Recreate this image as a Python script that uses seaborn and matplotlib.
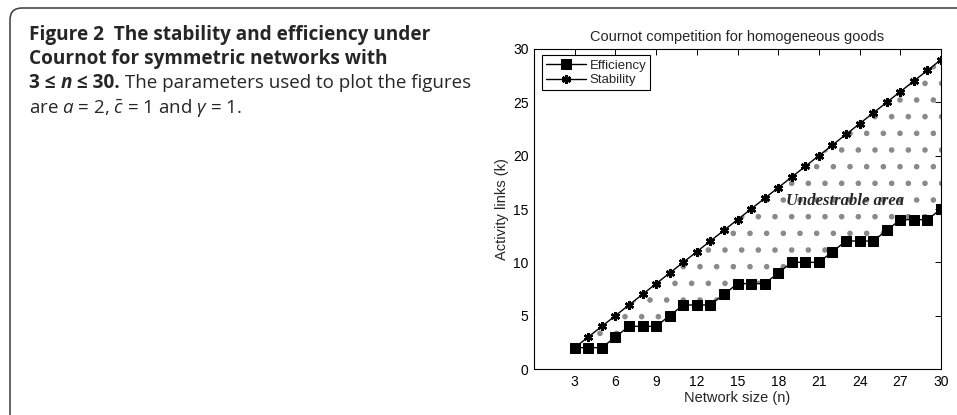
import matplotlib
matplotlib.use("Agg")
import matplotlib.pyplot as plt
import matplotlib.patches as mpatches
import matplotlib.transforms as mtrans
import seaborn as sns
import pandas as pd

# ---- data ----
network_size = [3, 4, 5, 6, 7, 8, 9, 10, 11, 12, 13, 14, 15, 16, 17, 18, 19, 20,
                21, 22, 23, 24, 25, 26, 27, 28, 29, 30]
efficiency = [2, 2, 2, 3, 4, 4, 4, 5, 6, 6, 6, 7, 8, 8, 8, 9, 10, 10, 10, 11,
              12, 12, 12, 13, 14, 14, 14, 15]
stability = [2, 3, 4, 5, 6, 7, 8, 9, 10, 11, 12, 13, 14, 15, 16, 17, 18, 19,
             20, 21, 22, 23, 24, 25, 26, 27, 28, 29]
x_ticks = [3, 6, 9, 12, 15, 18, 21, 24, 27, 30]
y_ticks = [0, 5, 10, 15, 20, 25, 30]

title = "Cournot competition for homogeneous goods"
xlabel = "Network size (n)"
ylabel = "Activity links (k)"
area_label = "Undestrable area"

df = pd.DataFrame({"n": network_size, "Efficiency": efficiency, "Stability": stability})

sns.set_theme(style="white")
plt.rcParams["font.family"] = ["Liberation Sans", "DejaVu Sans"]
plt.rcParams["hatch.color"] = "#8a8a8a"
plt.rcParams["hatch.linewidth"] = 1.6
plt.rcParams["mathtext.fontset"] = "custom"
plt.rcParams["mathtext.rm"] = "Open Sans"
plt.rcParams["mathtext.it"] = "Open Sans:italic"
plt.rcParams["mathtext.bf"] = "Open Sans:bold"

W, H = 957, 415
fig = plt.figure(figsize=(W / 100, H / 100), dpi=100)
fig.patch.set_facecolor("white")

# frame of the figure panel (rounded top-left corner)
frame = mpatches.FancyBboxPatch((10, -60), 1100, H - 8 + 60,
                                boxstyle="round,pad=0,rounding_size=12",
                                transform=mtrans.IdentityTransform(),
                                facecolor="none", edgecolor="#3a3a3a", linewidth=1.1)
fig.patches.append(frame)
frame.set_figure(fig)

# caption
cap_font = "Open Sans"
cap_size = 13.7
reg_size = 13.5
def px(x, y):
    return x / W, 1 - y / H

fig.text(*px(29, 40), "Figure 2  The stability and efficiency under", fontsize=cap_size,
         fontweight="bold", family=cap_font, va="baseline", ha="left")
fig.text(*px(29, 64), "Cournot for symmetric networks with", fontsize=cap_size,
         fontweight="bold", family=cap_font, va="baseline", ha="left")
t1 = fig.text(*px(29, 88.5), "3 \u2264 ", fontsize=cap_size, fontweight="bold",
              family=cap_font, va="baseline", ha="left")
t2 = fig.text(0, 0, "n", fontsize=cap_size, fontweight="bold", fontstyle="italic",
              family=cap_font, va="baseline", ha="left")
t3 = fig.text(0, 0, " \u2264 30.", fontsize=cap_size, fontweight="bold",
              family=cap_font, va="baseline", ha="left")
t4 = fig.text(0, 0, " The parameters used to plot the figures", fontsize=reg_size,
              family=cap_font, va="baseline", ha="left")
fig.text(*px(29, 113), r"are $a$ = 2, $\bar{c}$ = 1 and $\gamma$ = 1.", fontsize=reg_size,
         family=cap_font, va="baseline", ha="left")

# axes
ax = fig.add_axes([534 / W, 1 - 369 / H, 407 / W, 320 / H])

ax.fill_between(df["n"], df["Efficiency"], df["Stability"], facecolor="none",
                edgecolor="#8a8a8a", hatch=".", linewidth=0, zorder=1)

sns.lineplot(data=df, x="n", y="Efficiency", ax=ax, color="black", marker="s",
             markersize=6.5, markeredgecolor="black", linewidth=1.0, label="Efficiency",
             zorder=3)
sns.lineplot(data=df, x="n", y="Stability", ax=ax, color="black", marker=(6, 2, 0),
             markersize=6.5, markeredgewidth=1.8, markeredgecolor="black", linewidth=1.0,
             label="Stability", zorder=3)

ax.set_xlim(0, 30)
ax.set_ylim(0, 30)
ax.set_xticks(x_ticks)
ax.set_yticks(y_ticks)
ax.tick_params(direction="in", length=4, width=0.7, top=True, right=True,
               labelsize=10, colors="black", pad=4)
for s in ax.spines.values():
    s.set_visible(True)
    s.set_color("black")
    s.set_linewidth(0.8)

ax.set_title(title, fontsize=10.5, pad=6)
ax.set_xlabel(xlabel, fontsize=10.5, labelpad=2)
ax.set_ylabel(ylabel, fontsize=10.5, labelpad=3)

ax.text(18.6, 15.75, area_label, family="Liberation Serif", fontweight="bold",
        fontstyle="italic", fontsize=12, va="center", ha="left", zorder=4)

leg = ax.legend(loc="upper left", bbox_to_anchor=(0.02, 0.98), borderaxespad=0,
                frameon=True, fancybox=False, edgecolor="black", framealpha=1,
                fontsize=9.5, handlelength=3, borderpad=0.3, labelspacing=0.2,
                handletextpad=0.3, numpoints=1)
leg.get_frame().set_linewidth(0.8)

# chain the bold/italic parts of caption line 3
fig.canvas.draw()
r = fig.canvas.get_renderer()
prev = t1
for t in (t2, t3, t4):
    bb = prev.get_window_extent(r)
    x0 = bb.x1 / W
    t.set_position((x0, prev.get_position()[1]))
    prev = t
    fig.canvas.draw()

fig.savefig("out.png", dpi=100)
